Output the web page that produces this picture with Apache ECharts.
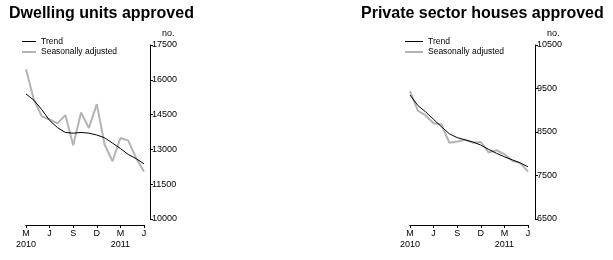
<!DOCTYPE html>
<html>
<head>
<meta charset="utf-8">
<script src="https://cdn.jsdelivr.net/npm/echarts@6/dist/echarts.min.js"></script>
<style>
html,body{margin:0;padding:0;background:#fff;}
#chart{width:613px;height:260px;}
</style>
</head>
<body>
<div id="chart"></div>
<script>
// ---- Data ----
const months = ['Mar 2010','Apr 2010','May 2010','Jun 2010','Jul 2010','Aug 2010','Sep 2010','Oct 2010',
                'Nov 2010','Dec 2010','Jan 2011','Feb 2011','Mar 2011','Apr 2011','May 2011','Jun 2011'];
const xTickLabels = ['M\n2010','J','S','D','M\n2011','J'];

const dwellingTrend = [15390,15120,14720,14250,13940,13730,13700,13730,13700,13620,13500,13270,13040,12780,12600,12380];
const dwellingSA    = [16450,15150,14430,14290,14120,14480,13180,14590,13920,14950,13200,12490,13490,13380,12620,12050];
const dwellingTicks = [10000,11500,13000,14500,16000,17500];

const housesTrend = [9350,9110,8960,8790,8620,8460,8370,8320,8270,8200,8100,8010,7930,7860,7790,7700];
const housesSA    = [9440,8990,8880,8700,8670,8255,8280,8320,8255,8270,8030,8080,7990,7840,7790,7590];
const housesTicks = [6500,7500,8500,9500,10500];

const titles = ['Dwelling units approved','Private sector houses approved'];
const seriesNames = ['Trend','Seasonally adjusted'];

// ---- Chart ----
const FONT = "'Liberation Sans', Arial, sans-serif";
const TREND_COLOR = '#000';
const SA_COLOR = '#b4b4b4';
const chart = echarts.init(document.getElementById('chart'), null, {renderer:'canvas'});

function xAxis(gridIndex){
  return {
    type:'category', gridIndex, data: months, boundaryGap:false, offset:6,
    axisLine:{lineStyle:{color:'#000',width:1}},
    axisTick:{length:3, interval:(i)=>i%3===0, lineStyle:{color:'#000'}},
    axisLabel:{interval:(i)=>i%3===0, formatter:(v,i)=>xTickLabels[i/3],
      fontFamily:FONT, fontSize:9, color:'#000', margin:3, lineHeight:11},
    splitLine:{show:false}
  };
}
function yAxis(gridIndex, ticks, off){
  return {
    type:'value', gridIndex, position:'right', offset:off,
    min:ticks[0], max:ticks[ticks.length-1],
    name:'no.', nameLocation:'end', nameGap:7,
    nameTextStyle:{fontFamily:FONT, fontSize:9, color:'#000', align:'left', padding:[0,0,0,12]},
    axisLine:{show:true, lineStyle:{color:'#000',width:1}},
    axisTick:{show:true, length:3, customValues:ticks, lineStyle:{color:'#000'}},
    axisLabel:{customValues:ticks, formatter:(v)=>String(v), fontFamily:FONT, fontSize:9, color:'#000', margin:2},
    splitLine:{show:false}
  };
}
function legendGraphic(x0, w){
  const rows = [
    {name:seriesNames[0], color:TREND_COLOR, width:1, y:41.5},
    {name:seriesNames[1], color:SA_COLOR, width:2, y:52}
  ];
  const els = [];
  rows.forEach(r=>{
    els.push({type:'line', shape:{x1:x0, y1:r.y, x2:x0+w, y2:r.y}, style:{stroke:r.color, lineWidth:r.width}, silent:true});
    els.push({type:'text', x:x0+w+5, y:r.y, style:{text:r.name, fontFamily:FONT, fontSize:8.5, fill:'#000', verticalAlign:'middle', align:'left'}, silent:true});
  });
  return els;
}
function line(name, data, idx, color, width, z){
  return {type:'line', name, data, xAxisIndex:idx, yAxisIndex:idx, symbol:'none',
          showSymbol:false, z, lineStyle:{color, width}, itemStyle:{color},
          animation:false, emphasis:{disabled:true}};
}

chart.setOption({
  animation:false,
  title:[
    {text:titles[0], left:4, top:1, textStyle:{fontFamily:FONT, fontSize:16, fontWeight:'bold', color:'#000'}},
    {text:titles[1], left:356, top:1, textStyle:{fontFamily:FONT, fontSize:16, fontWeight:'bold', color:'#000'}}
  ],
  graphic:[].concat(legendGraphic(22,14), legendGraphic(405,18)),
  grid:[
    {left:26, width:118, top:45, height:174},
    {left:410, width:118, top:45, height:174}
  ],
  xAxis:[xAxis(0), xAxis(1)],
  yAxis:[yAxis(0, dwellingTicks, 6), yAxis(1, housesTicks, 7)],
  series:[
    line(seriesNames[1], dwellingSA, 0, SA_COLOR, 2, 2),
    line(seriesNames[0], dwellingTrend, 0, TREND_COLOR, 1, 3),
    line(seriesNames[1], housesSA, 1, SA_COLOR, 2, 2),
    line(seriesNames[0], housesTrend, 1, TREND_COLOR, 1, 3)
  ]
});
</script>
</body>
</html>
